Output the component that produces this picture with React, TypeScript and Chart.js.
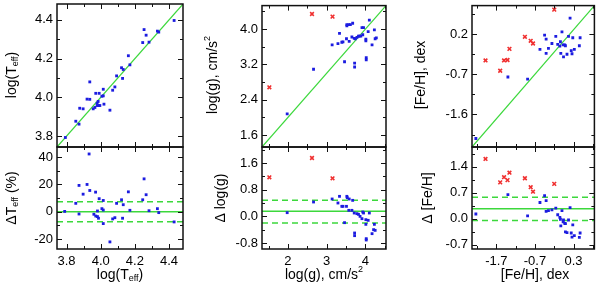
import React, { useEffect, useRef } from 'react';
import { Chart, registerables } from 'chart.js';

Chart.register(...registerables);

// ---------------- data ----------------
// Column 1: log(Teff)
const teffTopX = [3.793, 3.854, 3.873, 3.877, 3.897, 3.920, 3.936, 3.936, 3.956, 3.966, 3.971, 3.979, 3.979, 3.985, 3.989, 3.991, 3.995, 4.007, 4.015, 4.015, 4.019, 4.054, 4.070, 4.083, 4.093, 4.122, 4.132, 4.128, 4.162, 4.171, 4.246, 4.254, 4.266, 4.283, 4.332, 4.340, 4.430];
const teffTopY = [3.793, 3.877, 3.862, 3.944, 3.941, 3.991, 3.990, 4.080, 3.941, 3.948, 4.021, 3.970, 3.958, 3.979, 3.958, 4.021, 3.958, 4.006, 4.008, 4.042, 3.965, 3.934, 4.037, 4.054, 4.111, 4.153, 4.144, 4.098, 4.215, 4.168, 4.283, 4.350, 4.321, 4.285, 4.342, 4.337, 4.397];
const teffBotX = [3.789, 3.854, 3.873, 3.873, 3.897, 3.920, 3.936, 3.932, 3.960, 3.970, 3.971, 3.981, 3.981, 3.987, 3.991, 4.007, 4.015, 4.015, 4.015, 4.054, 4.070, 4.083, 4.093, 4.122, 4.128, 4.132, 4.162, 4.171, 4.246, 4.254, 4.266, 4.283, 4.332, 4.340, 4.430];
const teffBotY = [0.2, 6.1, -1.7, 19.2, 12.8, 19.9, 15.5, 42.2, -1.9, 14.3, -3.2, 0.5, -3.6, -4.8, 9.5, 2.2, 8.2, 1.2, -8.7, -22.1, -5.3, -4.4, 6.1, 8.7, -4.8, 5.1, 14.5, 1.0, 8.7, 24.0, 12.4, 0.7, 2.2, -0.7, -7.5];
const teffLines = [0, 7.3, -7.3];

// Column 2: log(g)
const loggTopRedX = [1.52, 2.62, 3.15];
const loggTopRedY = [2.68, 4.34, 4.28];
const loggTopX = [1.98, 2.66, 3.14, 3.29, 3.33, 3.39, 3.42, 3.46, 3.51, 3.52, 3.52, 3.57, 3.58, 3.61, 3.65, 3.67, 3.71, 3.72, 3.72, 3.74, 3.78, 3.82, 3.84, 3.88, 3.91, 3.93, 3.95, 4.01, 4.01, 4.02, 4.02, 4.07, 4.10, 4.17, 4.23, 4.25, 4.28];
const loggTopY = [2.08, 3.09, 3.64, 3.67, 3.90, 3.70, 3.71, 3.26, 3.78, 4.10, 4.07, 4.10, 3.72, 4.10, 3.82, 4.13, 3.79, 3.23, 3.14, 3.78, 3.81, 3.84, 3.84, 3.84, 4.03, 3.87, 4.03, 3.77, 3.73, 3.35, 3.30, 3.94, 4.20, 3.64, 3.98, 3.78, 3.80];
const loggBotRedX = [1.52, 2.62, 3.15];
const loggBotRedY = [1.17, 1.75, 1.14];
const loggBotX = [1.98, 2.66, 3.14, 3.29, 3.33, 3.39, 3.42, 3.46, 3.51, 3.52, 3.53, 3.58, 3.57, 3.65, 3.67, 3.71, 3.72, 3.72, 3.78, 3.82, 3.86, 3.91, 3.93, 3.95, 4.01, 4.01, 4.02, 4.02, 4.07, 4.10, 4.17, 4.21, 4.23, 4.25];
const loggBotY = [0.11, 0.43, 0.52, 0.40, 0.60, 0.30, 0.30, -0.19, 0.30, 0.60, 0.56, 0.52, 0.18, 0.18, 0.48, 0.10, -0.50, -0.58, 0.08, 0.06, 0.00, -0.07, 0.13, 0.10, -0.10, -0.24, -0.67, -0.71, -0.12, 0.10, -0.52, -0.40, -0.24, -0.42];
const loggLines = [0.15, 0.48, -0.20];

// Column 3: [Fe/H]
const fehRedX = [-1.98, -1.60, -1.50, -1.41, -1.36, -0.96, -0.81, -0.75, -0.20];
const fehTopRedY = [-0.39, -0.62, -0.39, -0.38, -0.13, 0.14, 0.05, -0.01, 0.75];
const fehBotRedY = [1.61, 0.98, 1.12, 1.04, 1.24, 1.09, 0.85, 0.73, 0.94];
const fehTopX = [-2.23, -1.40, -0.89, -0.57, -0.45, -0.41, -0.41, -0.35, -0.26, -0.16, -0.11, -0.055, -0.04, -0.03, 0.0, 0.03, 0.04, 0.07, 0.09, 0.13, 0.17, 0.21, 0.24, 0.26, 0.28, 0.32, 0.45, 0.47];
const fehTopY = [-2.14, -0.76, -0.81, -0.14, 0.18, 0.09, -0.23, -0.12, -0.01, 0.15, -0.03, -0.07, 0.03, -0.23, 0.25, -0.04, -0.31, -0.04, -0.06, -0.25, 0.15, 0.56, -0.17, -0.24, 0.12, -0.14, -0.06, 0.12];
const fehBotX = [-2.23, -1.40, -0.89, -0.57, -0.45, -0.41, -0.41, -0.35, -0.26, -0.16, -0.11, -0.055, -0.04, -0.03, 0.0, 0.03, 0.04, 0.07, 0.09, 0.09, 0.13, 0.17, 0.21, 0.24, 0.26, 0.28, 0.32, 0.45, 0.47];
const fehBotY = [0.13, 0.65, 0.08, 0.44, 0.62, 0.49, 0.20, 0.22, 0.24, 0.29, 0.11, 0.04, -0.01, -0.19, 0.22, -0.08, -0.03, -0.12, -0.13, -0.35, -0.37, -0.03, 0.30, -0.38, -0.49, -0.16, -0.45, -0.50, -0.38];
const fehLines = [0.27, 0.58, -0.045];

// tick values
const teffTicks = [3.8, 4.0, 4.2, 4.4];
const teffMinor = [3.9, 4.1, 4.3];
const dTeffTicks = [-20, 0, 20, 40];
const dTeffMinor = [-10, 10, 30];
const loggXTicks = [2, 3, 4];
const loggXMinor = [1.5, 2.5, 3.5, 4.5];
const loggYTicks = [1.6, 2.4, 3.2, 4.0];
const loggYMinor = [2.0, 2.8, 3.6, 4.4];
const dLoggTicks = [-0.8, 0.0, 0.8, 1.6];
const dLoggMinor = [-0.4, 0.4, 1.2, 2.0];
const fehXTicks = [-1.7, -0.7, 0.3];
const fehXMinor = [-2.2, -1.2, -0.2, 0.8];
const fehYTicks = [-1.6, -0.7, 0.2];
const fehYMinor = [-2.05, -1.15, -0.25, 0.65];
const dFehTicks = [-0.7, 0.0, 0.7, 1.4];
const dFehMinor = [-0.35, 0.35, 1.05, 1.75];

// ---------------- layout / style ----------------
const W = 600;
const H = 284;
const FONT = '"Liberation Sans", Arial, Helvetica, sans-serif';
const TICK_SIZE = 13;
const TITLE_SIZE = 14;
const YW = 40;
const XH = 24;
const BLUE = '#1c1ce0';
const RED = '#f03030';
const GREEN = '#3cd83c';

type Seg = { t: string; s?: 'sub' | 'sup' };
type Series = { x: number[]; y: number[] };

interface PanelDef {
  area: [number, number, number, number];
  xr: [number, number];
  yr: [number, number];
  xMaj: number[];
  xMin: number[];
  yMaj: number[];
  yMin: number[];
  xDec: number;
  yDec: number;
  showX: boolean;
  blue: Series;
  red?: Series;
  diag?: boolean;
  hl?: number[];
  yTitle: Seg[];
  yTitlePos: [number, number];
  xTitle?: Seg[];
  xTitlePos?: [number, number];
}

const T_EFF: Seg[] = [{ t: 'log(T' }, { t: 'eff', s: 'sub' }, { t: ')' }];
const D_TEFF: Seg[] = [{ t: '\u0394T' }, { t: 'eff', s: 'sub' }, { t: ' (%)' }];
const LOGG: Seg[] = [{ t: 'log(g), cm/s' }, { t: '2', s: 'sup' }];
const D_LOGG: Seg[] = [{ t: '\u0394 log(g)' }];
const FEH: Seg[] = [{ t: '[Fe/H], dex' }];
const D_FEH: Seg[] = [{ t: '\u0394 [Fe/H]' }];

const TOP: [number, number] = [3, 147];
const BOT: [number, number] = [147, 249];
const C1: [number, number] = [57, 183];
const C2: [number, number] = [262, 386];
const C3: [number, number] = [472, 598];

const panels: PanelDef[] = [
  {
    area: [C1[0], TOP[0], C1[1], TOP[1]], xr: [3.744, 4.482], yr: [3.744, 4.482],
    xMaj: teffTicks, xMin: teffMinor, yMaj: teffTicks, yMin: teffMinor, xDec: 1, yDec: 1, showX: false,
    blue: { x: teffTopX, y: teffTopY }, diag: true,
    yTitle: T_EFF, yTitlePos: [12, 75],
  },
  {
    area: [C1[0], BOT[0], C1[1], BOT[1]], xr: [3.744, 4.482], yr: [-27.3, 47.3],
    xMaj: teffTicks, xMin: teffMinor, yMaj: dTeffTicks, yMin: dTeffMinor, xDec: 1, yDec: 0, showX: true,
    blue: { x: teffBotX, y: teffBotY }, hl: teffLines,
    yTitle: D_TEFF, yTitlePos: [12, 198], xTitle: T_EFF, xTitlePos: [120, 275],
  },
  {
    area: [C2[0], TOP[0], C2[1], TOP[1]], xr: [1.33, 4.53], yr: [1.33, 4.53],
    xMaj: loggXTicks, xMin: loggXMinor, yMaj: loggYTicks, yMin: loggYMinor, xDec: 0, yDec: 1, showX: false,
    blue: { x: loggTopX, y: loggTopY }, red: { x: loggTopRedX, y: loggTopRedY }, diag: true,
    yTitle: LOGG, yTitlePos: [213, 75],
  },
  {
    area: [C2[0], BOT[0], C2[1], BOT[1]], xr: [1.33, 4.53], yr: [-0.98, 2.08],
    xMaj: loggXTicks, xMin: loggXMinor, yMaj: dLoggTicks, yMin: dLoggMinor, xDec: 0, yDec: 1, showX: true,
    blue: { x: loggBotX, y: loggBotY }, red: { x: loggBotRedX, y: loggBotRedY }, hl: loggLines,
    yTitle: D_LOGG, yTitlePos: [221, 198], xTitle: LOGG, xTitlePos: [324, 275],
  },
  {
    area: [C3[0], TOP[0], C3[1], TOP[1]], xr: [-2.33, 0.84], yr: [-2.33, 0.84],
    xMaj: fehXTicks, xMin: fehXMinor, yMaj: fehYTicks, yMin: fehYMinor, xDec: 1, yDec: 1, showX: false,
    blue: { x: fehTopX, y: fehTopY }, red: { x: fehRedX, y: fehTopRedY }, diag: true,
    yTitle: FEH, yTitlePos: [421, 75],
  },
  {
    area: [C3[0], BOT[0], C3[1], BOT[1]], xr: [-2.33, 0.84], yr: [-0.81, 1.93],
    xMaj: fehXTicks, xMin: fehXMinor, yMaj: dFehTicks, yMin: dFehMinor, xDec: 1, yDec: 1, showX: true,
    blue: { x: fehBotX, y: fehBotY }, red: { x: fehRedX, y: fehBotRedY }, hl: fehLines,
    yTitle: D_FEH, yTitlePos: [428, 198], xTitle: FEH, xTitlePos: [535, 275],
  },
];

// ---------------- drawing helpers ----------------
function drawSegs(ctx: CanvasRenderingContext2D, segs: Seg[], cx: number, cy: number, rotate: boolean) {
  ctx.save();
  ctx.translate(cx, cy);
  if (rotate) ctx.rotate(-Math.PI / 2);
  ctx.fillStyle = '#000';
  ctx.textBaseline = 'middle';
  ctx.textAlign = 'left';
  const fontFor = (s?: string) => `${s ? Math.round(TITLE_SIZE * 0.62) : TITLE_SIZE}px ${FONT}`;
  let total = 0;
  for (const sg of segs) {
    ctx.font = fontFor(sg.s);
    total += ctx.measureText(sg.t).width;
  }
  let x = -total / 2;
  for (const sg of segs) {
    ctx.font = fontFor(sg.s);
    const dy = sg.s === 'sub' ? 4 : sg.s === 'sup' ? -5 : 0;
    ctx.fillText(sg.t, x, dy);
    x += ctx.measureText(sg.t).width;
  }
  ctx.restore();
}

function makePlugin(p: PanelDef) {
  return {
    id: 'frameTicks',
    afterDraw(chart: any) {
      const ctx: CanvasRenderingContext2D = chart.ctx;
      const { left, top, right, bottom } = chart.chartArea;
      const xs = chart.scales.x;
      const ys = chart.scales.y;
      ctx.save();
      ctx.strokeStyle = '#111';
      ctx.lineWidth = 1;
      ctx.beginPath();
      const xt: [number[], number][] = [[p.xMaj, 5], [p.xMin, 3]];
      for (const [vals, len] of xt) {
        for (const v of vals) {
          const px = Math.round(xs.getPixelForValue(v)) + 0.5;
          if (px < left || px > right) continue;
          ctx.moveTo(px, bottom);
          ctx.lineTo(px, bottom - len);
          ctx.moveTo(px, top);
          ctx.lineTo(px, top + len);
        }
      }
      const yt: [number[], number][] = [[p.yMaj, 5], [p.yMin, 3]];
      for (const [vals, len] of yt) {
        for (const v of vals) {
          const py = Math.round(ys.getPixelForValue(v)) + 0.5;
          if (py < top || py > bottom) continue;
          ctx.moveTo(left, py);
          ctx.lineTo(left + len, py);
          ctx.moveTo(right, py);
          ctx.lineTo(right - len, py);
        }
      }
      ctx.stroke();
      ctx.lineWidth = 1.5;
      ctx.strokeRect(left, top, right - left, bottom - top);
      ctx.restore();
      drawSegs(ctx, p.yTitle, p.yTitlePos[0], p.yTitlePos[1], true);
      if (p.xTitle && p.xTitlePos) drawSegs(ctx, p.xTitle, p.xTitlePos[0], p.xTitlePos[1], false);
    },
  };
}

function toPts(s: Series) {
  return s.x.map((x, i) => ({ x, y: s.y[i] }));
}

function buildConfig(p: PanelDef): any {
  const datasets: any[] = [];
  if (p.diag) {
    datasets.push({
      data: [{ x: p.xr[0], y: p.yr[0] }, { x: p.xr[1], y: p.yr[1] }],
      showLine: true, borderColor: GREEN, borderWidth: 1.2, pointRadius: 0, order: 3,
    });
  }
  if (p.hl) {
    p.hl.forEach((v, i) => {
      datasets.push({
        data: [{ x: p.xr[0], y: v }, { x: p.xr[1], y: v }],
        showLine: true, borderColor: GREEN, borderWidth: 1.5, pointRadius: 0, order: 3,
        borderDash: i === 0 ? [] : [6, 4],
      });
    });
  }
  datasets.push({
    data: toPts(p.blue), pointStyle: 'rect', pointRadius: 2, backgroundColor: BLUE,
    borderWidth: 0, showLine: false, order: 1,
  });
  if (p.red) {
    datasets.push({
      data: toPts(p.red), pointStyle: 'crossRot', pointRadius: 2.6, borderColor: RED,
      backgroundColor: RED, borderWidth: 1.6, showLine: false, order: 1,
    });
  }
  const [L, T, R, B] = p.area;
  const tickFont = { family: FONT, size: TICK_SIZE };
  return {
    type: 'scatter',
    data: { datasets },
    plugins: [makePlugin(p)],
    options: {
      animation: false,
      responsive: false,
      maintainAspectRatio: false,
      events: [],
      layout: {
        padding: { left: L - YW, top: T, right: W - R, bottom: H - B - (p.showX ? XH : 0) },
      },
      plugins: { legend: { display: false }, tooltip: { enabled: false } },
      scales: {
        x: {
          type: 'linear', position: 'bottom', min: p.xr[0], max: p.xr[1],
          afterBuildTicks: (s: any) => { s.ticks = p.xMaj.map((v) => ({ value: v })); },
          afterFit: (s: any) => {
            s.height = p.showX ? XH : 0;
            s.paddingLeft = 0; s.paddingRight = 0; s.paddingTop = 0; s.paddingBottom = 0;
          },
          ticks: {
            display: p.showX, autoSkip: false, maxRotation: 0, minRotation: 0, padding: 5,
            color: '#000', font: tickFont,
            callback: (v: any) => Number(v).toFixed(p.xDec),
          },
          grid: { display: false, drawTicks: false },
          border: { display: false },
        },
        y: {
          type: 'linear', position: 'left', min: p.yr[0], max: p.yr[1],
          afterBuildTicks: (s: any) => { s.ticks = p.yMaj.map((v) => ({ value: v })); },
          afterFit: (s: any) => {
            s.width = YW;
            s.paddingLeft = 0; s.paddingRight = 0; s.paddingTop = 0; s.paddingBottom = 0;
          },
          ticks: {
            autoSkip: false, padding: 4, color: '#000', font: tickFont,
            callback: (v: any) => Number(v).toFixed(p.yDec),
          },
          grid: { display: false, drawTicks: false },
          border: { display: false },
        },
      },
    },
  };
}

function Panel({ def }: { def: PanelDef }) {
  const ref = useRef<HTMLCanvasElement>(null);
  useEffect(() => {
    const chart = new Chart(ref.current as HTMLCanvasElement, buildConfig(def));
    return () => chart.destroy();
  }, [def]);
  return (
    <canvas
      ref={ref}
      width={W}
      height={H}
      style={{ position: 'absolute', left: 0, top: 0, width: W, height: H }}
    />
  );
}

export default function App() {
  return (
    <div style={{ position: 'absolute', left: 0, top: 0, width: W, height: H, background: '#fff', overflow: 'hidden' }}>
      {panels.map((p, i) => (
        <Panel key={i} def={p} />
      ))}
    </div>
  );
}
